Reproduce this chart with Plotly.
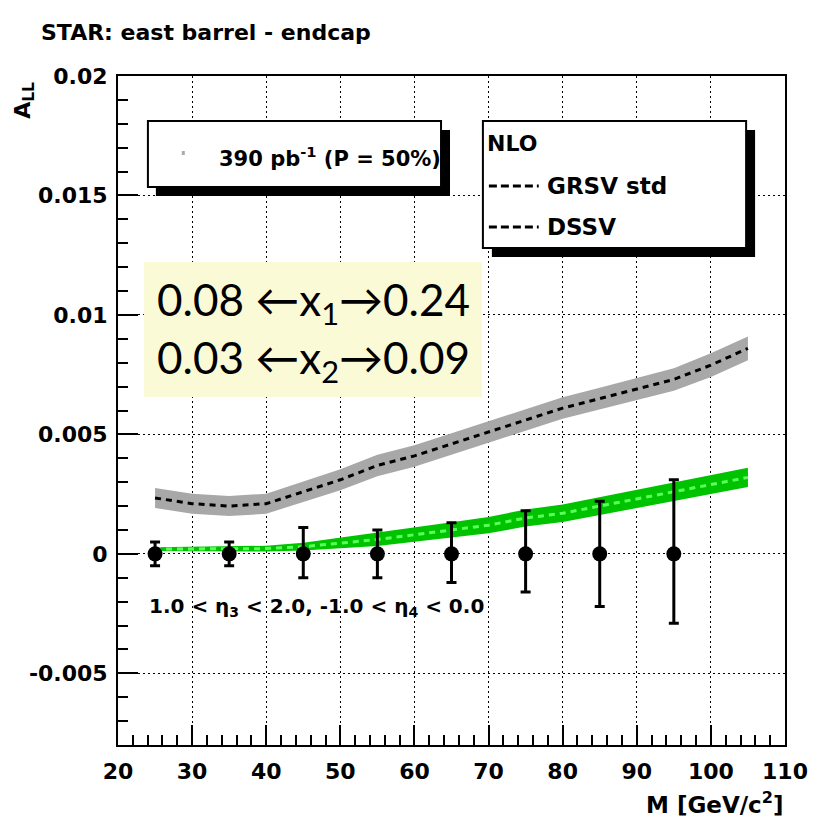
import plotly.graph_objects as go

# ---------------- data ----------------
M_points = [25, 35, 45, 55, 65, 75, 85, 95]
A_points = [0, 0, 0, 0, 0, 0, 0, 0]
err_plus = [0.0005, 0.0005, 0.0011, 0.0010, 0.0013, 0.0018, 0.0022, 0.0031]
err_minus = [0.0005, 0.0005, 0.0010, 0.0010, 0.0012, 0.0016, 0.0022, 0.0029]

M_curve = [25, 30, 35, 40, 45, 50, 55, 60, 65, 70, 75, 80, 85, 90, 95, 100, 105]
grsv = [0.00234, 0.0021, 0.0020, 0.0021, 0.0026, 0.0031, 0.0037, 0.0041, 0.0046,
        0.0051, 0.0056, 0.0061, 0.0065, 0.0069, 0.0073, 0.0079, 0.0086]
grsv_band = [0.00042, 0.00042, 0.00042, 0.00042, 0.00043, 0.00044, 0.00045, 0.00045, 0.00045,
             0.00045, 0.00045, 0.00045, 0.00045, 0.00046, 0.00047, 0.0005, 0.0005]
dssv = [0.0002, 0.0002, 0.0002, 0.00022, 0.0003, 0.00045, 0.0006, 0.0008, 0.0010,
        0.0012, 0.0015, 0.0017, 0.0020, 0.0023, 0.0026, 0.0029, 0.0032]
dssv_band = [0.00008, 0.0001, 0.0001, 0.00012, 0.00016, 0.00022, 0.00027, 0.0003, 0.00032,
             0.00034, 0.00036, 0.00037, 0.00038, 0.00039, 0.0004, 0.0004, 0.0004]

x_ticks = [20, 30, 40, 50, 60, 70, 80, 90, 100, 110]
y_ticks = [-0.005, 0, 0.005, 0.01, 0.015, 0.02]
y_ticktext = ["-0.005", "0", "0.005", "0.01", "0.015", "0.02"]

# ---------------- layout helpers ----------------
W, H = 820, 831
L, R, T, B = 118, 787, 76, 745


def px(x):
    return (x - L) / (R - L)


def py(y):
    return (B - y) / (B - T)


FONT = "DejaVu Sans"
fig = go.Figure()

# GRSV band
fig.add_trace(go.Scatter(
    x=M_curve + M_curve[::-1],
    y=[g + e for g, e in zip(grsv, grsv_band)] + [g - e for g, e in zip(grsv, grsv_band)][::-1],
    fill="toself", fillcolor="rgb(168,168,168)", line=dict(width=0),
    mode="lines", hoverinfo="skip", showlegend=False))
fig.add_trace(go.Scatter(x=M_curve, y=grsv, mode="lines",
                         line=dict(color="black", width=3, dash="6px,5px"),
                         showlegend=False))
# DSSV band
fig.add_trace(go.Scatter(
    x=M_curve + M_curve[::-1],
    y=[g + e for g, e in zip(dssv, dssv_band)] + [g - e for g, e in zip(dssv, dssv_band)][::-1],
    fill="toself", fillcolor="rgb(0,195,0)", line=dict(width=0),
    mode="lines", hoverinfo="skip", showlegend=False))
fig.add_trace(go.Scatter(x=M_curve, y=dssv, mode="lines",
                         line=dict(color="rgb(90,255,90)", width=3, dash="6px,5px"),
                         showlegend=False))
# data points
fig.add_trace(go.Scatter(
    x=M_points, y=A_points, mode="markers",
    marker=dict(color="black", size=15, symbol="circle"),
    error_y=dict(type="data", symmetric=False, array=err_plus, arrayminus=err_minus,
                 color="black", thickness=3, width=5),
    showlegend=False))

axis_font = dict(family=FONT, size=22, color="black", weight="bold")
grid_kw = dict(showgrid=True, gridcolor="black", griddash="2px,3px", gridwidth=1)
fig.update_xaxes(range=[20, 110], tickvals=x_ticks, ticktext=[str(v) for v in x_ticks],
                 tickfont=axis_font, ticks="inside", ticklen=20, tickwidth=2, tickcolor="black",
                 showline=True, linecolor="black", linewidth=2, mirror=True,
                 zeroline=False, ticklabelstandoff=6,
                 minor=dict(ticks="inside", ticklen=10, tickwidth=2, tickcolor="black",
                            dtick=2, tick0=20, showgrid=False), **grid_kw)
fig.update_yaxes(range=[-0.008, 0.02], tickvals=y_ticks, ticktext=y_ticktext,
                 tickfont=axis_font, ticks="inside", ticklen=20, tickwidth=2, tickcolor="black",
                 showline=True, linecolor="black", linewidth=2, mirror=True,
                 zeroline=False, ticklabelstandoff=4,
                 minor=dict(ticks="inside", ticklen=10, tickwidth=2, tickcolor="black",
                            dtick=0.001, tick0=0, showgrid=False), **grid_kw)

shapes = []
annotations = []

# Legend box 1 with shadow
shapes.append(dict(type="rect", xref="paper", yref="paper", x0=px(156), x1=px(451),
                   y0=py(196), y1=py(130), fillcolor="black", line=dict(width=0), layer="above"))
shapes.append(dict(type="rect", xref="paper", yref="paper", x0=px(148), x1=px(442),
                   y0=py(187), y1=py(121), fillcolor="white",
                   line=dict(color="black", width=2), layer="above"))
shapes.append(dict(type="rect", xref="paper", yref="paper", x0=px(182), x1=px(185),
                   y0=py(155), y1=py(151), fillcolor="rgb(170,170,170)",
                   line=dict(width=0), layer="above"))
annotations.append(dict(text="390 pb<sup>-1</sup> (P = 50%)", xref="paper", yref="paper",
                        x=px(217), y=py(157), xanchor="left", yanchor="middle", showarrow=False,
                        font=dict(family=FONT, size=21, color="black", weight="bold")))

# Legend box 2 with shadow
shapes.append(dict(type="rect", xref="paper", yref="paper", x0=px(493), x1=px(757),
                   y0=py(257), y1=py(130), fillcolor="black", line=dict(width=0), layer="above"))
shapes.append(dict(type="rect", xref="paper", yref="paper", x0=px(484), x1=px(748),
                   y0=py(248), y1=py(121), fillcolor="white",
                   line=dict(color="black", width=2), layer="above"))
for yy in (186, 227):
    shapes.append(dict(type="line", xref="paper", yref="paper", x0=px(490), x1=px(540),
                       y0=py(yy), y1=py(yy), line=dict(color="black", width=3, dash="8px,4px"),
                       layer="above"))
annotations.append(dict(text="NLO", xref="paper", yref="paper", x=px(486), y=py(143),
                        xanchor="left", yanchor="middle", showarrow=False,
                        font=dict(family=FONT, size=22, color="black", weight="bold")))
annotations.append(dict(text="GRSV std", xref="paper", yref="paper", x=px(546), y=py(186),
                        xanchor="left", yanchor="middle", showarrow=False,
                        font=dict(family=FONT, size=23, color="black", weight="bold")))
annotations.append(dict(text="DSSV", xref="paper", yref="paper", x=px(546), y=py(227),
                        xanchor="left", yanchor="middle", showarrow=False,
                        font=dict(family=FONT, size=23, color="black", weight="bold")))

# yellow box
shapes.append(dict(type="rect", xref="paper", yref="paper", x0=px(144), x1=px(483),
                   y0=py(397), y1=py(262), fillcolor="rgb(250,250,215)",
                   line=dict(width=0), layer="above"))
annotations.append(dict(text="0.08 ←x<sub>1</sub>→0.24", xref="paper", yref="paper",
                        x=px(155), y=py(302), xanchor="left", yanchor="middle", showarrow=False,
                        font=dict(family="Lato", size=44, color="black")))
annotations.append(dict(text="0.03 ←x<sub>2</sub>→0.09", xref="paper", yref="paper",
                        x=px(155), y=py(360), xanchor="left", yanchor="middle", showarrow=False,
                        font=dict(family="Lato", size=44, color="black")))

# eta text
annotations.append(dict(text="1.0 &lt; η<sub>3</sub> &lt; 2.0, -1.0 &lt; η<sub>4</sub> &lt; 0.0",
                        xref="paper", yref="paper", x=px(147), y=py(607),
                        xanchor="left", yanchor="middle", showarrow=False,
                        font=dict(family=FONT, size=20, color="black", weight="bold")))

# title
annotations.append(dict(text="STAR: east barrel - endcap", xref="paper", yref="paper",
                        x=px(39), y=py(33), xanchor="left", yanchor="middle", showarrow=False,
                        font=dict(family=FONT, size=22, color="black", weight="bold")))
# y axis title
annotations.append(dict(text="A<sub>LL</sub>", xref="paper", yref="paper",
                        x=px(24), y=py(80), xanchor="center", yanchor="top", showarrow=False,
                        textangle=-90,
                        font=dict(family=FONT, size=22, color="black", weight="bold")))
# x axis title
annotations.append(dict(text="M [GeV/c<sup>2</sup>]", xref="paper", yref="paper",
                        x=px(787), y=py(803), xanchor="right", yanchor="middle", showarrow=False,
                        font=dict(family=FONT, size=23, color="black", weight="bold")))

fig.update_layout(width=W, height=H, margin=dict(l=L, r=W - R, t=T, b=H - B),
                  paper_bgcolor="white", plot_bgcolor="white",
                  shapes=shapes, annotations=annotations, showlegend=False)

fig.write_html("out.html")
